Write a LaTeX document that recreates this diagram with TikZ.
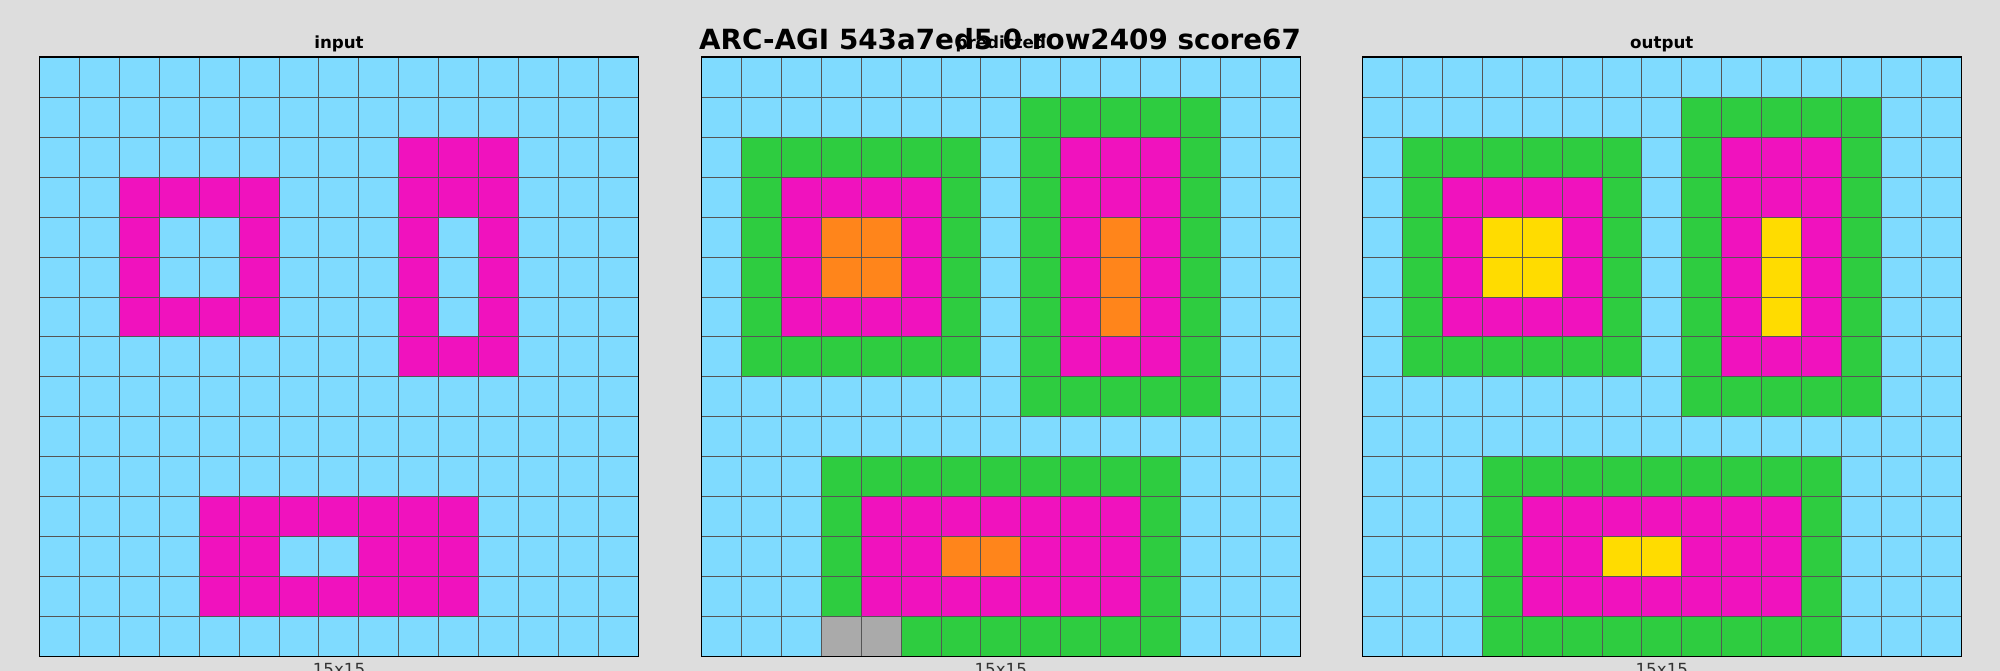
\documentclass[tikz,border=0pt]{standalone}
\usepackage{fontspec}
\setmainfont{DejaVu Sans}
\definecolor{bgc}{HTML}{DDDDDD}
\definecolor{c8}{HTML}{7FDBFF}
\definecolor{c6}{HTML}{F012BE}
\definecolor{c3}{HTML}{2ECC40}
\definecolor{c7}{HTML}{FF851B}
\definecolor{c4}{HTML}{FFDC00}
\definecolor{c5}{HTML}{AAAAAA}
\definecolor{gline}{HTML}{555555}
\definecolor{subtxt}{HTML}{333333}
\tikzset{
  cellbox/.style={draw=gline, line width=1pt},
  frame/.style={draw=black, line width=1.6pt},
  titletxt/.style={anchor=base, inner sep=0pt, font=\fontsize{27.8}{30}\selectfont\bfseries},
  headtxt/.style={anchor=base, inner sep=0pt, font=\fontsize{16.7}{19}\selectfont\bfseries},
  sizetxt/.style={anchor=base, inner sep=0pt, text=subtxt, font=\fontsize{16.7}{19}\selectfont},
}
\newcount\cellx
\newcount\celly
\def\cs{39.95}
\def\gridrow#1{\cellx=0 \rowaux#1\relax\advance\celly by 1 }
\def\rowaux#1{\ifx\relax#1\else
  \filldraw[cellbox, fill=c#1] (\gox+\the\cellx*\cs, 57.3+\the\celly*\cs) rectangle ++(\cs,\cs);%
  \advance\cellx by 1
  \expandafter\rowaux\fi}
\def\drawgrid#1#2{\def\gox{#1}\celly=0
  \foreach \r in {#2} {\expandafter\gridrow\expandafter{\r}}%
}
\begin{document}
\begin{tikzpicture}[x=1pt,y=-1pt]
\useasboundingbox (0,0) rectangle (2000,671);
\fill[bgc] (0,0) rectangle (2000,671);
% input grid
\def\gox{39.3}\celly=0
\gridrow{888888888888888}
\gridrow{888888888888888}
\gridrow{888888888666888}
\gridrow{886666888666888}
\gridrow{886886888686888}
\gridrow{886886888686888}
\gridrow{886666888686888}
\gridrow{888888888666888}
\gridrow{888888888888888}
\gridrow{888888888888888}
\gridrow{888888888888888}
\gridrow{888866666668888}
\gridrow{888866886668888}
\gridrow{888866666668888}
\gridrow{888888888888888}
\draw[frame] (39.3,57.3) rectangle ++(15*\cs,15*\cs);
% predicted grid
\def\gox{701.3}\celly=0
\gridrow{888888888888888}
\gridrow{888888883333388}
\gridrow{833333383666388}
\gridrow{836666383666388}
\gridrow{836776383676388}
\gridrow{836776383676388}
\gridrow{836666383676388}
\gridrow{833333383666388}
\gridrow{888888883333388}
\gridrow{888888888888888}
\gridrow{888333333333888}
\gridrow{888366666663888}
\gridrow{888366776663888}
\gridrow{888366666663888}
\gridrow{888553333333888}
\draw[frame] (701.3,57.3) rectangle ++(15*\cs,15*\cs);
% output grid
\def\gox{1362.3}\celly=0
\gridrow{888888888888888}
\gridrow{888888883333388}
\gridrow{833333383666388}
\gridrow{836666383666388}
\gridrow{836446383646388}
\gridrow{836446383646388}
\gridrow{836666383646388}
\gridrow{833333383666388}
\gridrow{888888883333388}
\gridrow{888888888888888}
\gridrow{888333333333888}
\gridrow{888366666663888}
\gridrow{888366446663888}
\gridrow{888366666663888}
\gridrow{888333333333888}
\draw[frame] (1362.3,57.3) rectangle ++(15*\cs,15*\cs);
% labels
\node[headtxt] (hin) at (339,48.5) {input};
\node[headtxt] (hpr) at (1000.8,48.5) {predicted};
\node[headtxt] (hout) at (1661.8,48.5) {output};
\node[sizetxt] (sin) at (339,675) {15x15};
\node[sizetxt] (spr) at (1000.8,675) {15x15};
\node[sizetxt] (sout) at (1661.8,675) {15x15};
\node[titletxt] (title) at (1000,49.5) {ARC-AGI 543a7ed5 0 row2409 score67};
\end{tikzpicture}
\end{document}
